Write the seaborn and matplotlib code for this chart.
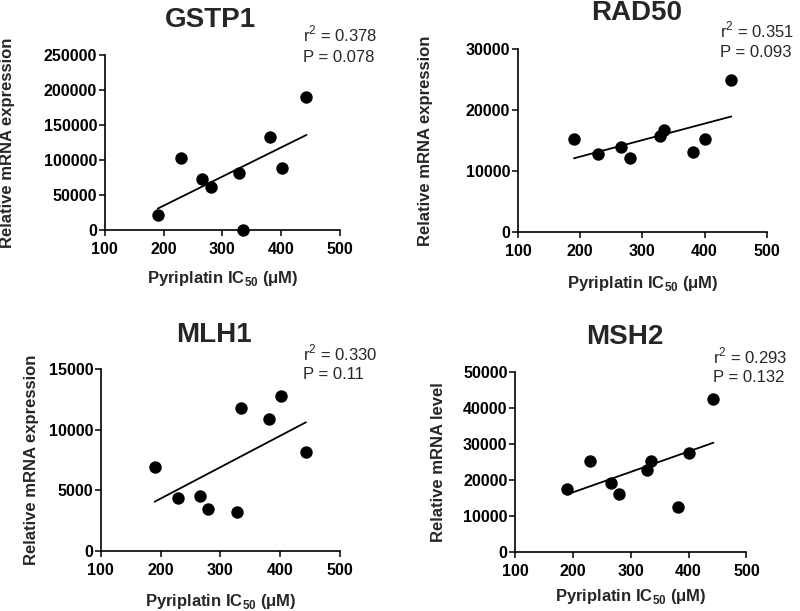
"""
Korrelation der mRNA-Expression von Reparaturgenen mit der Pyriplatin-IC50.
Vier Streudiagramme mit linearer Regression, gespeichert als out.png.
"""

import matplotlib.pyplot as plt
import pandas as pd
import seaborn as sns

sns.set_theme(style="ticks")
plt.rcParams["font.family"] = ["Liberation Sans", "DejaVu Sans"]
plt.rcParams["mathtext.fontset"] = "custom"
plt.rcParams["mathtext.rm"] = "Liberation Sans"
plt.rcParams["mathtext.bf"] = "Liberation Sans:bold"

# IC50-Werte der neun Zelllinien (gemeinsam fuer alle Panels)
ic50 = [190, 229, 266, 280, 328, 335, 381, 401, 443]

gstp1 = [21500, 102500, 72500, 60500, 81000, 0, 132000, 88000, 190500]
rad50 = [15300, 12800, 14000, 12200, 15700, 16700, 13100, 15300, 24900]
mlh1 = [6900, 4400, 4500, 3500, 3200, 11800, 10900, 12800, 8200]
msh2 = [17600, 25400, 19100, 16100, 22700, 25400, 12600, 27500, 42500]

genes = ["GSTP1", "RAD50", "MLH1", "MSH2"]
values = [gstp1, rad50, mlh1, msh2]
r2_labels = ["0.378", "0.351", "0.330", "0.293"]
p_labels = ["0.078", "0.093", "0.11", "0.132"]
y_labels = ["Relative mRNA expression", "Relative mRNA expression",
            "Relative mRNA expression", "Relative mRNA level"]
y_ticks = [
    [0, 50000, 100000, 150000, 200000, 250000],
    [0, 10000, 20000, 30000],
    [0, 5000, 10000, 15000],
    [0, 10000, 20000, 30000, 40000, 50000],
]
x_ticks = [100, 200, 300, 400, 500]

# Layout je Panel: Achsenrechteck, Titelposition, Textposition, Labelpositionen
axes_rects = [
    [0.131, 0.624, 0.294, 0.286],
    [0.6475, 0.620, 0.311, 0.2995],
    [0.126, 0.098, 0.299, 0.298],
    [0.644, 0.0966, 0.289, 0.2946],
]
title_pos = [(0.45, 1.16), (0.477, 1.158), (0.473, 1.15), (0.476, 1.156)]
stat_pos = [(0.844, 1.076, 0.962), (0.811, 1.067, 0.958),
            (0.846, 1.049, 0.945), (0.854, 1.048, 0.946)]
ylabel_x = [-0.383, -0.341, -0.257, -0.301]
xlabel_y = [-0.223, -0.23, -0.225, -0.194]

fig = plt.figure(figsize=(8.0, 6.11), dpi=100)

for i, gene in enumerate(genes):
    ax = fig.add_axes(axes_rects[i])
    df = pd.DataFrame({"ic50": ic50, "expr": values[i]})
    sns.regplot(data=df, x="ic50", y="expr", ax=ax, ci=None,
                color="black",
                scatter_kws={"s": 80, "alpha": 1, "linewidths": 0,
                             "clip_on": False, "zorder": 3},
                line_kws={"linewidth": 1.3})
    ax.set_xlim(100, 500)
    ax.set_ylim(y_ticks[i][0], y_ticks[i][-1])
    ax.set_xticks(x_ticks)
    ax.set_yticks(y_ticks[i])
    ax.tick_params(direction="out", length=4, width=1.1, colors="black",
                   labelsize=11.5)
    ax.tick_params(axis="x", pad=4.5)
    ax.tick_params(axis="y", pad=1.5)
    for lab in ax.get_xticklabels() + ax.get_yticklabels():
        lab.set_fontweight("bold")
    sns.despine(ax=ax)
    for side in ["left", "bottom"]:
        ax.spines[side].set_linewidth(1.2)
        ax.spines[side].set_color("black")

    ax.set_xlabel(r"Pyriplatin IC$_{\mathbf{50}}$ ($\mathbf{\mu}$M)",
                  fontsize=12, fontweight="bold", va="top")
    ax.xaxis.set_label_coords(0.5, xlabel_y[i])
    ax.set_ylabel(y_labels[i], fontsize=12, fontweight="bold")
    ax.yaxis.set_label_coords(ylabel_x[i], 0.5)

    tx, ty = title_pos[i]
    ax.text(tx, ty, gene, transform=ax.transAxes, ha="center",
            va="baseline", fontsize=20, fontweight="bold")
    sx, ry, py = stat_pos[i]
    ax.text(sx, ry, r"r$^{\mathrm{2}}$ = " + r2_labels[i],
            transform=ax.transAxes, ha="left", va="baseline", fontsize=12)
    ax.text(sx, py, "P = " + p_labels[i], transform=ax.transAxes,
            ha="left", va="baseline", fontsize=12)

fig.savefig("out.png", dpi=100)
